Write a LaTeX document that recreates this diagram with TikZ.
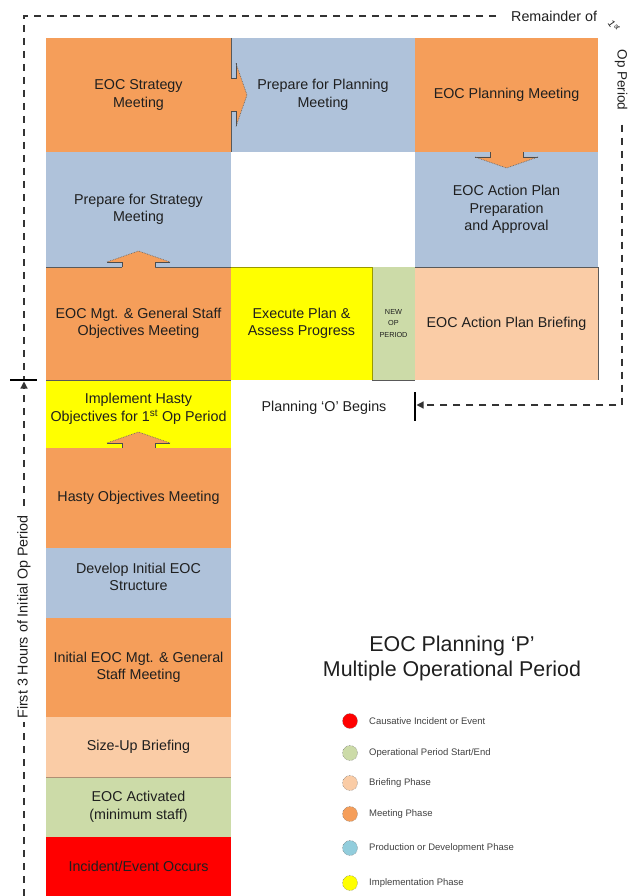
\documentclass[tikz,border=0pt]{standalone}
\usepackage{fontspec}
\setmainfont{Liberation Sans}
\usetikzlibrary{arrows.meta,calc}
\definecolor{cOrange}{RGB}{245,158,90}
\definecolor{cBlue}{RGB}{175,194,218}
\definecolor{cYellow}{RGB}{255,255,0}
\definecolor{cGreen}{RGB}{204,219,168}
\definecolor{cPeach}{RGB}{250,204,166}
\definecolor{cRed}{RGB}{255,0,0}
\definecolor{cCyan}{RGB}{146,205,220}
\newcommand\mkbox[7]{\node[box, fill=#6, minimum width={#4-#2}, minimum height={#5-#3}] (#1) at ({(#2+#4)/2},{(#3+#5)/2}) {#7};}
\begin{document}
\begin{tikzpicture}[x=1pt,y=-1pt,
  box/.style={rectangle, inner sep=0pt, outer sep=0pt, align=center, text=black!88,
    font=\fontsize{14.3}{17.5}\selectfont},
  txt/.style={inner sep=0pt, align=center, text=black!88, font=\fontsize{14.3}{17.5}\selectfont},
  dashline/.style={draw=black!80, line width=1.2pt, dash pattern=on 7pt off 6pt},
  edge/.style={draw=black!65, line width=0.6pt},
  dot/.style={circle, minimum size=15pt, inner sep=0pt, draw=black!55, densely dotted, line width=0.5pt},
  legtext/.style={anchor=west, inner sep=0pt, text=black!75, font=\fontsize{9.5}{11}\selectfont},
  blockarr/.pic={
    \fill[cOrange] (-16.5,1) -- (-16.5,-5) -- (-31.5,-5) -- (0,-16) -- (31.5,-5) -- (16.5,-5) -- (16.5,1) -- cycle;
    \draw[black!70, line width=0.6pt] (-16.5,-0.3) -- (-16.5,-5) -- (-31.5,-5);
    \draw[black!70, line width=0.6pt] (16.5,-0.3) -- (16.5,-5) -- (31.5,-5);
    \draw[black!60, densely dotted, line width=0.7pt] (-31.5,-5) -- (0,-16) -- (31.5,-5);
  }
]
\useasboundingbox (0,0) rectangle (629,896);

% ---- boxes ----
\mkbox{strat}{46}{38}{231}{152}{cOrange}{EOC Strategy\\Meeting}
\mkbox{prepplan}{231}{38}{415}{152}{cBlue}{Prepare for Planning\\Meeting}
\mkbox{planmtg}{415}{38}{598}{152}{cOrange}{EOC Planning Meeting}
\mkbox{prepstrat}{46}{152}{231}{267}{cBlue}{Prepare for Strategy\\Meeting}
\mkbox{iap}{415}{152}{598}{267}{cBlue}{EOC Action Plan\\Preparation\\and Approval}
\mkbox{objmtg}{46}{267}{231}{380}{cOrange}{EOC Mgt. \& General Staff\\Objectives Meeting}
\mkbox{execute}{231}{267}{372}{380}{cYellow}{Execute Plan \&\\Assess Progress}
\node[box, fill=cGreen, minimum width=43, minimum height=113, font=\fontsize{7.3}{11.5}\selectfont] (newop) at (393.5,323.5) {NEW\\OP\\PERIOD};
\mkbox{briefing}{415}{267}{598}{380}{cPeach}{EOC Action Plan Briefing}
\mkbox{hastyimpl}{46}{380}{231}{448}{cYellow}{}
\mkbox{hastymtg}{46}{448}{231}{548}{cOrange}{Hasty Objectives Meeting}
\mkbox{structure}{46}{548}{231}{618}{cBlue}{}
\mkbox{initmtg}{46}{618}{231}{717}{cOrange}{Initial EOC Mgt. \& General\\Staff Meeting}
\mkbox{sizeup}{46}{717}{231}{777}{cPeach}{Size-Up Briefing}
\mkbox{activated}{46}{777}{231}{837}{cGreen}{EOC Activated\\(minimum staff)}
\mkbox{incident}{46}{837}{231}{896}{cRed}{Incident/Event Occurs}
\node[txt] (hastyimplt) at ($(hastyimpl.center)+(0,-5)$) {Implement Hasty\\Objectives for 1\textsuperscript{st} Op Period};
\node[txt] (structuret) at ($(structure.center)+(0,-6)$) {Develop Initial EOC\\Structure};

% ---- thin edges ----
\draw[edge] (strat.north east) -- (strat.south east);
\draw[edge] (objmtg.north west) -- (objmtg.north east);
\draw[edge] (objmtg.south west) -- (objmtg.south east);
\draw[draw=black!40!cYellow, line width=0.6pt] (execute.north west) -- (execute.north east);
\draw[draw=black!40!cYellow, line width=0.6pt] (execute.north east) -- (execute.south east);
\draw[edge] (newop.south west) -- (newop.south east);
\draw[edge] (briefing.north west) -- (briefing.north east) -- (briefing.south east);
\draw[draw=black!30!cPeach, line width=0.6pt] (sizeup.south west) -- (sizeup.south east);

% ---- block arrows ----
\pic[rotate=-90] at (strat.east) {blockarr};
\pic at (objmtg.north) {blockarr};
\pic at (hastymtg.north) {blockarr};
\pic[rotate=180] at (planmtg.south) {blockarr};

% ---- timeline dashed lines ----
\coordinate (corner) at (24,16);
\coordinate (tick) at (24,380);
\coordinate (bottom) at (24,896);
\node[txt, anchor=west] (rem) at (511,16) {Remainder of};
\node[inner sep=0pt, rotate=-55, text=black!88, font=\fontsize{10}{11}\selectfont] (first) at (614,26) {1\textsuperscript{st}};
\node[txt, rotate=-90, font=\fontsize{13.5}{16}\selectfont] (opper) at (621,80) {Op Period};
\draw[dashline] ($(rem.west)+(-15,0)$) -- (corner) -- (tick);
\draw[line width=1.8pt, black] (10,380) -- (37,380);
\draw[dashline, -{Triangle[length=7pt,width=7pt]}] (bottom) -- (24,381.5);
\node[txt, rotate=90, fill=white, inner sep=3pt] (firsthrs) at (24,617) {First 3 Hours of Initial Op Period};

\draw[line width=1.8pt, black] (415,392) -- (415,421);
\draw[dashline, -{Triangle[length=7pt,width=7pt]}] ($(opper.east)+(1,14)$) |- (416.5,405);
\node[txt] (pob) at (324,408) {Planning ‘O’ Begins};

% ---- title ----
\node[txt, font=\fontsize{21.4}{25}\selectfont] (title) at (452,658) {EOC Planning ‘P’\\Multiple Operational Period};

% ---- legend ----
\node[dot, fill=cRed] (d1) at (350,721) {};
\node[dot, fill=cGreen] (d2) at (350,753) {};
\node[dot, fill=cPeach] (d3) at (350,783) {};
\node[dot, fill=cOrange] (d4) at (350,814) {};
\node[dot, fill=cCyan] (d5) at (350,848) {};
\node[dot, fill=cYellow] (d6) at (350,883) {};
\node[legtext] (t1) at (369,721) {Causative Incident or Event};
\node[legtext] (t2) at (369,753) {Operational Period Start/End};
\node[legtext] (t3) at (369,783) {Briefing Phase};
\node[legtext] (t4) at (369,814) {Meeting Phase};
\node[legtext] (t5) at (369,848) {Production or Development Phase};
\node[legtext] (t6) at (369,883) {Implementation Phase};
\end{tikzpicture}
\end{document}
